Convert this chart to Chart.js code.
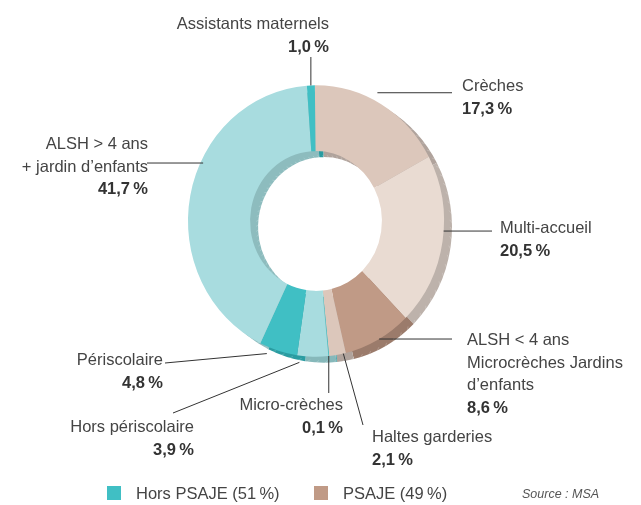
<!DOCTYPE html>
<html>
<head>
<meta charset="utf-8">
<script src="https://cdn.jsdelivr.net/npm/chart.js@4.4.0/dist/chart.umd.min.js"></script>
<style>
  body { margin: 0; background: #fff; }
  #wrap { position: relative; width: 641px; height: 505px; }
  .key { position: absolute; top: 484px; font: 16.5px 'Liberation Sans', Arial, sans-serif; color: #444; }
  .key i { display: inline-block; width: 14px; height: 14px; vertical-align: -1px; margin-right: 15px; }
  #source { position: absolute; left: 522px; top: 487px; font: italic 12.5px 'Liberation Sans', Arial, sans-serif; color: #555; }
</style>
</head>
<body>
<div id="wrap">
  <canvas id="donut" width="641" height="505"></canvas>
  <div class="key" style="left:107px"><i style="background:#40bfc4"></i><span id="k0"></span></div>
  <div class="key" style="left:314px"><i style="background:#c09a86"></i><span id="k1"></span></div>
  <div id="source">Source : MSA</div>
</div>
<script>
// ---- data ----
const categories = ['Crèches', 'Multi-accueil', 'ALSH < 4 ans Microcrèches Jardins d’enfants', 'Haltes garderies',
  'Micro-crèches', 'Hors périscolaire', 'Périscolaire', 'ALSH > 4 ans + jardin d’enfants', 'Assistants maternels'];
const shares = [17.3, 20.5, 8.6, 2.1, 0.1, 3.9, 4.8, 41.7, 1.0];
const labelLines = [
  ['Crèches'],
  ['Multi-accueil'],
  ['ALSH < 4 ans', 'Microcrèches Jardins', 'd’enfants'],
  ['Haltes garderies'],
  ['Micro-crèches'],
  ['Hors périscolaire'],
  ['Périscolaire'],
  ['ALSH > 4 ans', '+ jardin d’enfants'],
  ['Assistants maternels']
];
const groups = ['Hors PSAJE', 'PSAJE'];
const groupShares = [51, 49];

// ---- styles ----
const faceColors = ['#dcc7bb', '#e9dbd2', '#c09a86', '#dcc7bb', '#40bfc4', '#a8dcdf', '#40bfc4', '#a8dcdf', '#40bfc4'];
const sideColors = ['#b0a39c', '#bdb2ab', '#9b7b6b', '#b0a39c', '#2a9ca1', '#86b8ba', '#2a9ca1', '#8dbcbe', '#2a9ca1'];
const SQUASH = 1.06;          // ring is a bit taller than wide
const DEPTH = { x: 8, y: 6 }; // visible thickness of the ring

// where each label sits: at = fraction along the slice, r = radius factor,
// to = end of leader (null keeps the start coordinate), text anchor + alignment
const labelLayout = [
  { at: 0.44, r: 1.06, to: [452, null], x: 462, y: 91, align: 'left' },
  { at: 0.44, r: 1.0, to: [492, null], x: 500, y: 233, align: 'left' },
  { at: 0.48, r: 1.0, to: [452, null], x: 467, y: 345, align: 'left' },
  { at: 0.15, r: 1.0, to: [363, 425], x: 372, y: 442, align: 'left' },
  { at: 0.5, r: 1.0, to: [null, 393], x: 343, y: 410, align: 'right' },
  { at: 0.9, r: 1.05, to: [173, 413], x: 194, y: 432, align: 'right' },
  { at: 0.75, r: 1.05, to: [165, 363], x: 163, y: 365, align: 'right' },
  { at: 0.6, r: 0.98, to: [147, null], x: 148, y: 149, align: 'right' },
  { at: 0.5, r: 1.0, to: [null, 57], x: 329, y: 29, align: 'right' }
];

const fmt = v => v.toFixed(1).replace('.', ',') + '\u2009%';

document.getElementById('k0').textContent = groups[0] + ' (' + groupShares[0] + '\u2009%)';
document.getElementById('k1').textContent = groups[1] + ' (' + groupShares[1] + '\u2009%)';

function squashAround(ctx, x, y) {
  ctx.translate(x, y);
  ctx.scale(1, SQUASH);
  ctx.translate(-x, -y);
}

// draws the darker side of the ring under the faces, and squashes the faces
const depthPlugin = {
  id: 'depth',
  beforeDatasetsDraw(chart) {
    const ctx = chart.ctx;
    const arcs = chart.getDatasetMeta(0).data;
    const { x, y } = arcs[0];
    ctx.save();
    squashAround(ctx, x, y);
    const sx = x + DEPTH.x, sy = y + DEPTH.y / SQUASH;
    arcs.forEach((arc, i) => {
      ctx.beginPath();
      ctx.arc(sx, sy, arc.outerRadius, arc.startAngle, arc.endAngle);
      ctx.arc(sx, sy, arc.innerRadius, arc.endAngle, arc.startAngle, true);
      ctx.closePath();
      ctx.fillStyle = sideColors[i];
      ctx.fill();
    });
    // faint stripes on the side
    ctx.strokeStyle = 'rgba(255,255,255,0.25)';
    ctx.lineWidth = 0.8;
    const outer = arcs[0].outerRadius, inner = arcs[0].innerRadius;
    for (let a = 0; a < Math.PI * 2; a += 0.07) {
      ctx.beginPath();
      ctx.moveTo(sx + Math.cos(a) * (outer - 2), sy + Math.sin(a) * (outer - 2));
      ctx.lineTo(sx + Math.cos(a + 0.04) * (outer + 2), sy + Math.sin(a + 0.04) * (outer + 2));
      ctx.moveTo(sx + Math.cos(a) * (inner + 2), sy + Math.sin(a) * (inner + 2));
      ctx.lineTo(sx + Math.cos(a + 0.04) * (inner - 2), sy + Math.sin(a + 0.04) * (inner - 2));
      ctx.stroke();
    }
  },
  afterDatasetsDraw(chart) {
    chart.ctx.restore();
  }
};

// leader lines and the text around the ring
const labelPlugin = {
  id: 'calloutLabels',
  afterDraw(chart) {
    const ctx = chart.ctx;
    const arcs = chart.getDatasetMeta(0).data;
    ctx.save();
    arcs.forEach((arc, i) => {
      const L = labelLayout[i];
      const ang = arc.startAngle + (arc.endAngle - arc.startAngle) * L.at;
      const rad = arc.outerRadius * L.r;
      const x0 = arc.x + Math.cos(ang) * rad;
      const y0 = arc.y + Math.sin(ang) * rad * SQUASH;
      const x1 = L.to[0] === null ? x0 : L.to[0];
      const y1 = L.to[1] === null ? y0 : L.to[1];
      ctx.beginPath();
      ctx.moveTo(x0, y0);
      ctx.lineTo(x1, y1);
      ctx.strokeStyle = '#333';
      ctx.lineWidth = 1;
      ctx.stroke();

      ctx.textAlign = L.align;
      ctx.textBaseline = 'alphabetic';
      let ty = L.y;
      labelLines[i].forEach(line => {
        ctx.font = '16.5px "Liberation Sans", Arial, sans-serif';
        ctx.fillStyle = '#444';
        ctx.fillText(line, L.x, ty);
        ty += 22.5;
      });
      ctx.font = 'bold 16.5px "Liberation Sans", Arial, sans-serif';
      ctx.fillStyle = '#333';
      ctx.fillText(fmt(shares[i]), L.x, ty);
    });
    ctx.restore();
  }
};

new Chart(document.getElementById('donut'), {
  type: 'doughnut',
  data: {
    labels: categories,
    datasets: [{
      data: shares,
      backgroundColor: faceColors,
      borderWidth: 0,
      hoverOffset: 0,
      clip: false
    }]
  },
  options: {
    responsive: false,
    animation: false,
    cutout: '51.5%',
    rotation: -0.5,
    layout: { padding: { left: 188, right: 197, top: 93, bottom: 156 } },
    plugins: { legend: { display: false }, tooltip: { enabled: false } }
  },
  plugins: [depthPlugin, labelPlugin]
});
</script>
</body>
</html>
